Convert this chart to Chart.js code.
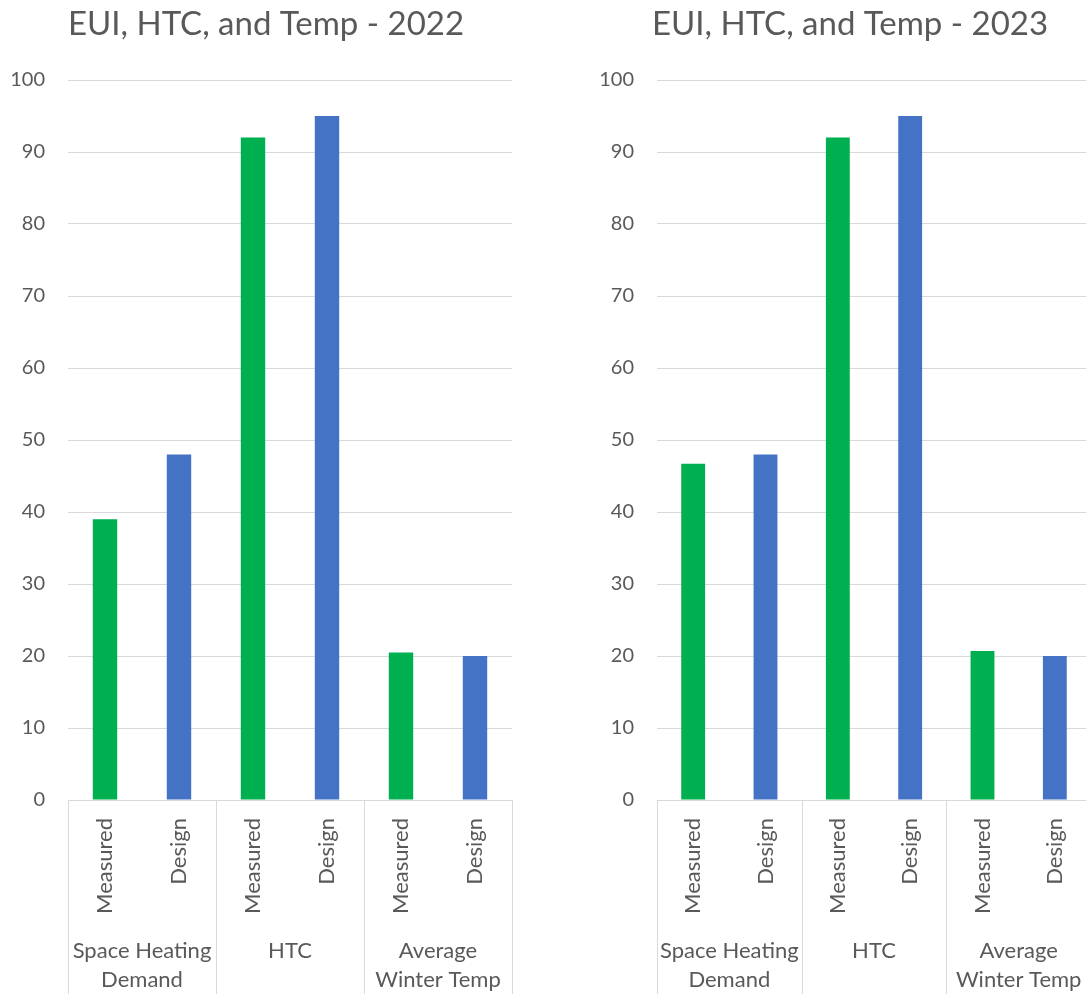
<!DOCTYPE html>
<html lang="en">
<head>
    <meta charset="UTF-8">
    <title>EUI, HTC, and Temp</title>
    <script src="https://cdn.jsdelivr.net/npm/chart.js"></script>
    <style>
        body { margin: 0; background: #fff; }
        .page { position: relative; width: 1086px; height: 994px; overflow: hidden; }
        .panel { position: absolute; top: 0; width: 532px; height: 994px; }
    </style>
</head>
<body>

    <div class="page">
        <div class="panel" style="left: 0px;"><canvas id="chart2022" width="532" height="994"></canvas></div>
        <div class="panel" style="left: 589px;"><canvas id="chart2023" width="532" height="994"></canvas></div>
    </div>

    <script>

        // Categories (two levels) and series
        const groupLabels = [['Space Heating', 'Demand'], ['HTC'], ['Average', 'Winter Temp']];
        const seriesLabels = ['Measured', 'Design'];
        const seriesColors = ['#00B050', '#4472C4'];

        const measured2022 = [39, 92, 20.5];
        const design2022 = [48, 95, 20];

        const measured2023 = [46.7, 92, 20.7];
        const design2023 = [48, 95, 20];

        const yMin = 0;
        const yMax = 100;
        const yStep = 10;

        const FONT = 'Lato, "Open Sans", sans-serif';
        const TEXT = '#595959';
        const LINE = '#D9D9D9';

        // title, centred a little left of the plot area (over plot + y labels)
        const panelTitle = {
            id: 'panelTitle',
            afterDraw(chart, args, opts) {
                const ctx = chart.ctx;
                const area = chart.chartArea;
                ctx.save();
                ctx.font = '33px ' + FONT;
                ctx.fillStyle = TEXT;
                ctx.textAlign = 'center';
                ctx.textBaseline = 'middle';
                ctx.fillText(opts.text, (area.left + area.right) / 2 - 24, 24);
                ctx.restore();
            }
        };

        // second category level: group names plus the separator lines
        const groupAxis = {
            id: 'groupAxis',
            afterDraw(chart) {
                const ctx = chart.ctx;
                const x = chart.scales.x;
                const bottom = chart.chartArea.bottom;
                const half = (x.getPixelForValue(1) - x.getPixelForValue(0)) / 2;
                const size = seriesLabels.length;
                ctx.save();
                ctx.strokeStyle = LINE;
                ctx.lineWidth = 1;
                for (let g = 0; g <= groupLabels.length; g++) {
                    const px = Math.round(x.getPixelForValue(g * size) - half) + 0.5;
                    ctx.beginPath();
                    ctx.moveTo(px, bottom);
                    ctx.lineTo(px, chart.height);
                    ctx.stroke();
                }
                ctx.font = '22px ' + FONT;
                ctx.fillStyle = TEXT;
                ctx.textAlign = 'center';
                ctx.textBaseline = 'middle';
                groupLabels.forEach((lines, g) => {
                    const cx = (x.getPixelForValue(g * size) + x.getPixelForValue(g * size + size - 1)) / 2;
                    lines.forEach((line, k) => ctx.fillText(line, cx, bottom + 151 + k * 29));
                });
                ctx.restore();
            }
        };

        function makeChart(id, title, measured, design, padRight) {
            const labels = [];
            const values = [];
            const colors = [];
            measured.forEach((m, i) => {
                [m, design[i]].forEach((v, s) => {
                    labels.push(seriesLabels[s]);
                    values.push(v);
                    colors.push(seriesColors[s]);
                });
            });

            return new Chart(document.getElementById(id), {
                type: 'bar',
                data: {
                    labels: labels,
                    datasets: [{
                        data: values,
                        backgroundColor: colors,
                        barPercentage: 0.33,
                        categoryPercentage: 1
                    }]
                },
                options: {
                    responsive: false,
                    animation: false,
                    devicePixelRatio: 1,
                    layout: { padding: { top: 80, right: padRight, bottom: 0, left: 0 } },
                    scales: {
                        x: {
                            grid: { display: false, drawTicks: false },
                            border: { display: true, color: LINE, width: 1 },
                            ticks: {
                                color: TEXT,
                                font: { family: FONT, size: 22 },
                                minRotation: 90,
                                maxRotation: 90,
                                autoSkip: false,
                                padding: 18
                            },
                            afterFit: scale => { scale.height = 194; }
                        },
                        y: {
                            min: yMin,
                            max: yMax,
                            ticks: {
                                stepSize: yStep,
                                color: TEXT,
                                font: { family: FONT, size: 20 },
                                padding: 23
                            },
                            grid: { color: LINE, drawTicks: false },
                            border: { display: false },
                            afterFit: scale => { scale.width = 68; }
                        }
                    },
                    plugins: {
                        legend: { display: false },
                        tooltip: { enabled: false },
                        panelTitle: { text: title }
                    }
                },
                plugins: [panelTitle, groupAxis]
            });
        }

        makeChart('chart2022', 'EUI, HTC, and Temp - 2022', measured2022, design2022, 20);
        makeChart('chart2023', 'EUI, HTC, and Temp - 2023', measured2023, design2023, 30);

    </script>

</body>
</html>
